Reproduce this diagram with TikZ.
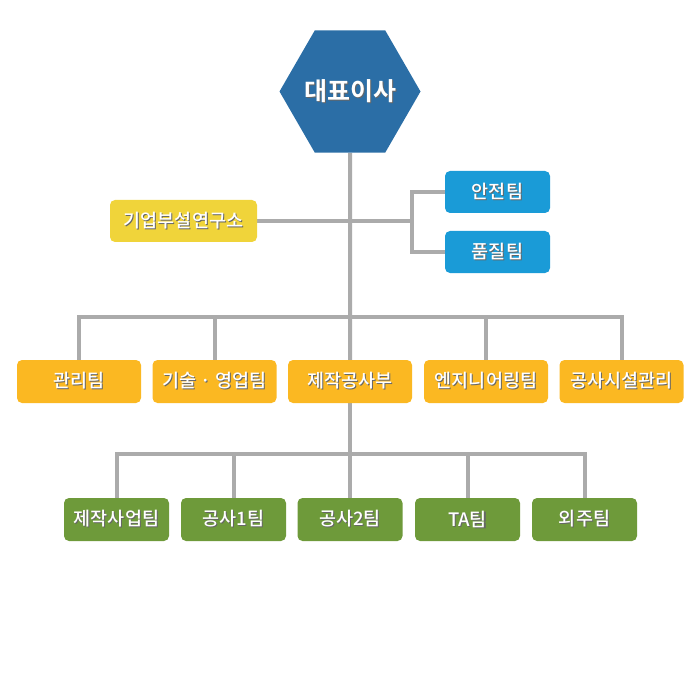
\documentclass[tikz,border=0pt]{standalone}
\usepackage{fontspec}
\setmainfont{Noto Sans CJK KR Medium}
\newfontfamily\hexfont{Noto Sans CJK KR Bold}
\usetikzlibrary{shapes.geometric,backgrounds}
\definecolor{hexblue}{HTML}{2B6EA6}
\definecolor{teamblue}{HTML}{1A9BD7}
\definecolor{labyellow}{HTML}{F0D43A}
\definecolor{deptorange}{HTML}{FBB822}
\definecolor{teamgreen}{HTML}{6E9A3A}
\definecolor{linegray}{HTML}{ABABAB}
\newcommand\shtxt[1]{\leavevmode\rlap{\kern1pt\raisebox{-1pt}{\textcolor{black!60}{#1}}}#1}
\tikzset{
  box/.style={rounded corners=5pt, text=white, inner sep=0pt, font=\fontsize{18.5}{22}\selectfont},
  labbox/.style={box, fill=labyellow, minimum width=147pt, minimum height=42pt},
  bluebox/.style={box, fill=teamblue, minimum width=105pt, minimum height=42pt},
  deptbox/.style={box, fill=deptorange, minimum width=124pt, minimum height=43pt},
  greenbox/.style={box, fill=teamgreen, minimum width=105pt, minimum height=43pt},
  link/.style={draw=linegray, line width=4pt},
}
\begin{document}
\begin{tikzpicture}[x=1pt,y=-1pt]
\useasboundingbox (0,0) rectangle (700,700);
\coordinate (j1) at (412,221);
\coordinate (r2) at (350,317);
\coordinate (r3) at (350,454);

\node[regular polygon, regular polygon sides=6, minimum size=141pt, inner sep=0pt, fill=hexblue, text=white, font=\hexfont\fontsize{25}{29}\selectfont] (ceo) at (350,91.5) {\makebox[40pt]{\shtxt{대표이사}}};

\node[labbox] (lab) at (183.5,221) {\shtxt{기업부설연구소}};
\node[bluebox] (safe) at (497.5,192) {\shtxt{안전팀}};
\node[bluebox] (qual) at (497.5,252) {\shtxt{품질팀}};

\node[deptbox] (d1) at (79,381.5) {\shtxt{관리팀}};
\node[deptbox] (d2) at (214.5,381.5) {\shtxt{기술 · 영업팀}};
\node[deptbox] (d3) at (350,381.5) {\shtxt{제작공사부}};
\node[deptbox] (d4) at (486,381.5) {\shtxt{엔지니어링팀}};
\node[deptbox] (d5) at (621.5,381.5) {\shtxt{공사시설관리}};

\node[greenbox] (g1) at (116.5,519.5) {\shtxt{제작사업팀}};
\node[greenbox] (g2) at (233.5,519.5) {\shtxt{공사1팀}};
\node[greenbox] (g3) at (350,519.5) {\shtxt{공사2팀}};
\node[greenbox] (g4) at (467.5,519.5) {\shtxt{TA팀}};
\node[greenbox] (g5) at (584.5,519.5) {\shtxt{외주팀}};

\begin{scope}[on background layer]
  \draw[link] (ceo.south) -- (d3.north);
  \draw[link] (lab.east) -- (j1);
  \draw[link] (safe.west) -| (j1) |- (qual.west);
  \draw[link] (d1.north) |- (r2) -| (d5.north);
  \draw[link] (d2.north) -- (d2.north |- r2);
  \draw[link] (d4.north) -- (d4.north |- r2);
  \draw[link] (d3.south) -- (r3);
  \draw[link] (g1.north) |- (r3) -| (g5.north);
  \draw[link] (g2.north) -- (g2.north |- r3);
  \draw[link] (g3.north) -- (r3);
  \draw[link] (g4.north) -- (g4.north |- r3);
\end{scope}
\end{tikzpicture}
\end{document}
